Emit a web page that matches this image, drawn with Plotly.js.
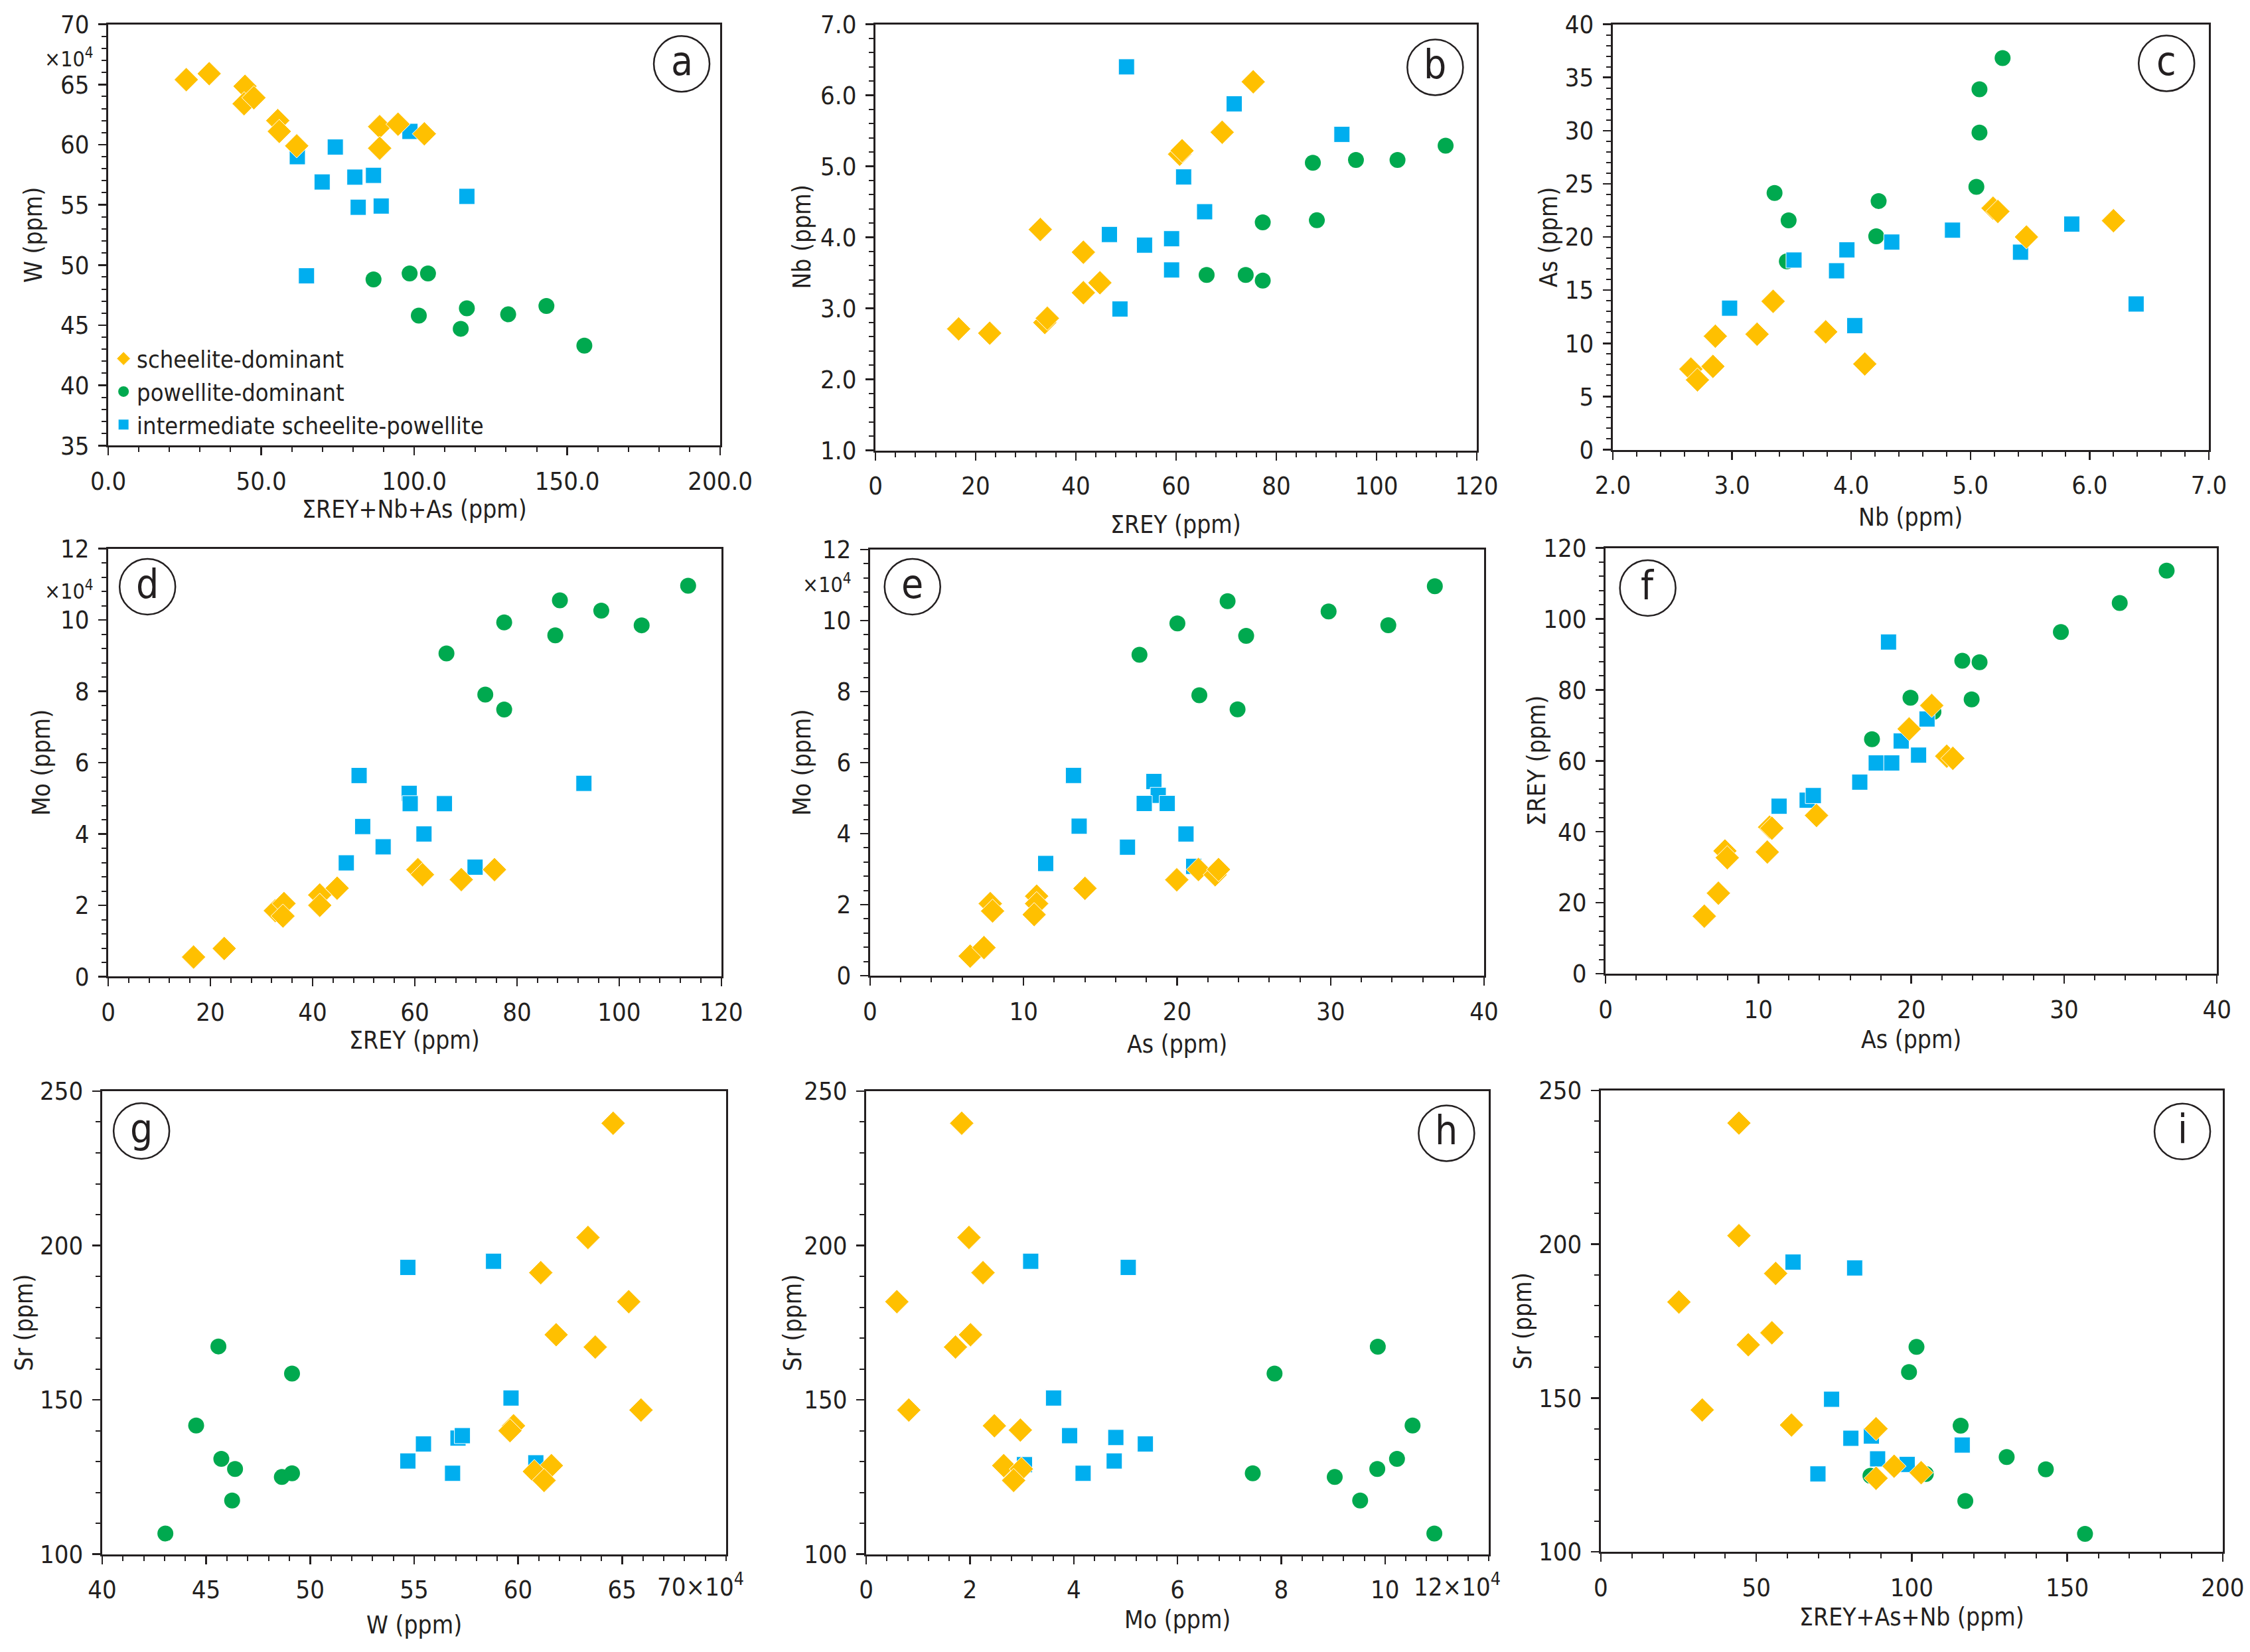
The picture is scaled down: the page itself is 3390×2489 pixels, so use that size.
<!DOCTYPE html>
<html>
<head>
<meta charset="utf-8">
<script src="https://cdn.plot.ly/plotly-3.0.1.min.js"></script>
<style>
  html, body { margin: 0; padding: 0; background: #fff; }
  #chart { width: 3390px; height: 2489px; }
</style>
</head>
<body>
<div id="chart"></div>
<script>
/* ── data, one block per panel (a–i) ── */

// (a) W vs ΣREY+Nb+As
const a_sch_x = [25.5, 33.0, 44.7, 44.4, 47.6, 55.4, 55.9, 61.6, 88.7, 88.7, 94.7, 103.3];
const a_sch_y = [65.4, 65.9, 64.85, 63.4, 63.9, 62.0, 61.1, 59.9, 61.5, 59.7, 61.7, 60.9];
const a_pow_x = [86.7, 98.5, 104.5, 101.5, 115.2, 117.2, 130.7, 143.2, 155.6];
const a_pow_y = [48.8, 49.3, 49.3, 45.8, 44.7, 46.4, 45.9, 46.6, 43.3];
const a_int_x = [61.8, 74.2, 69.9, 80.6, 86.7, 81.7, 89.2, 98.6, 117.2, 64.8];
const a_int_y = [59.0, 59.8, 56.9, 57.3, 57.45, 54.8, 54.9, 61.1, 55.7, 49.1];

// (b) Nb vs ΣREY
const b_sch_x = [16.6, 22.8, 32.9, 33.8, 34.3, 41.5, 41.5, 44.8, 60.7, 61.2, 69.2, 75.4];
const b_sch_y = [2.71, 2.65, 4.11, 2.80, 2.86, 3.79, 3.22, 3.36, 5.17, 5.22, 5.48, 6.19];
const b_pow_x = [87.3, 95.9, 104.2, 113.8, 77.3, 88.1, 66.1, 73.9, 77.3];
const b_pow_y = [5.05, 5.09, 5.09, 5.29, 4.21, 4.24, 3.47, 3.47, 3.39];
const b_int_x = [50.1, 71.6, 93.1, 61.5, 65.7, 46.7, 53.7, 59.1, 59.1, 48.8];
const b_int_y = [6.40, 5.88, 5.45, 4.85, 4.36, 4.04, 3.89, 3.98, 3.54, 2.99];

// (c) As vs Nb
const c_sch_x = [2.655, 2.71, 2.84, 2.86, 3.21, 3.345, 3.786, 4.114, 5.19, 5.23, 5.47, 6.2];
const c_sch_y = [7.58, 6.56, 7.83, 10.67, 10.86, 13.95, 11.08, 8.06, 22.71, 22.4, 20.0, 21.53];
const c_pow_x = [5.27, 5.076, 5.076, 5.05, 3.357, 3.475, 3.46, 4.23, 4.21];
const c_pow_y = [36.82, 33.89, 29.81, 24.71, 24.14, 21.56, 17.71, 23.38, 20.06];
const c_int_x = [2.98, 3.52, 3.877, 3.964, 4.03, 4.34, 4.85, 5.42, 5.85, 6.39];
const c_int_y = [13.31, 17.83, 16.82, 18.79, 11.66, 19.52, 20.64, 18.57, 21.21, 13.7];

// (d) Mo vs ΣREY
const d_sch_x = [16.7, 22.7, 32.7, 34.4, 34.2, 41.4, 41.4, 44.8, 60.6, 61.5, 69.1, 75.6];
const d_sch_y = [0.55, 0.79, 1.85, 2.05, 1.70, 2.29, 2.00, 2.48, 3.00, 2.86, 2.72, 3.00];
const d_pow_x = [66.2, 73.8, 77.5, 77.5, 87.5, 88.4, 96.5, 104.4, 113.5];
const d_pow_y = [9.06, 7.91, 7.49, 9.93, 9.57, 10.55, 10.26, 9.85, 10.96];
const d_int_x = [49.1, 58.9, 59.1, 65.8, 49.8, 61.8, 53.8, 46.6, 71.8, 93.1];
const d_int_y = [5.64, 5.14, 4.85, 4.85, 4.21, 4.00, 3.64, 3.19, 3.07, 5.42];

// (e) Mo vs As
const e_sch_x = [6.52, 7.42, 7.83, 7.98, 10.85, 10.85, 10.69, 14.0, 19.98, 21.39, 22.48, 22.7];
const e_sch_y = [0.55, 0.79, 2.03, 1.82, 2.24, 2.03, 1.72, 2.46, 2.70, 2.99, 2.84, 2.99];
const e_pow_x = [17.55, 20.02, 23.29, 24.5, 21.45, 23.94, 29.87, 33.76, 36.79];
const e_pow_y = [9.04, 9.92, 10.55, 9.57, 7.90, 7.50, 10.26, 9.87, 10.97];
const e_int_x = [13.25, 18.49, 18.77, 17.86, 19.36, 13.62, 20.58, 16.77, 11.44, 21.08];
const e_int_y = [5.64, 5.47, 5.08, 4.85, 4.85, 4.21, 3.99, 3.62, 3.16, 3.08];

// (f) ΣREY vs As
const f_sch_x = [6.46, 7.38, 7.81, 7.96, 10.58, 10.73, 10.88, 13.80, 19.86, 21.34, 22.32, 22.72];
const f_sch_y = [16.2, 22.7, 34.6, 32.7, 34.3, 41.3, 41.0, 44.6, 69.0, 75.6, 61.3, 60.7];
const f_pow_x = [17.43, 19.95, 21.45, 23.95, 23.34, 24.47, 29.79, 33.64, 36.71];
const f_pow_y = [66.1, 77.8, 73.8, 77.3, 88.2, 87.8, 96.3, 104.5, 113.6];
const f_int_x = [18.51, 21.03, 19.34, 20.48, 17.71, 18.72, 16.63, 11.35, 13.19, 13.59];
const f_int_y = [93.5, 71.8, 65.6, 61.6, 59.4, 59.4, 54.0, 47.2, 48.9, 50.2];

// (g) Sr vs W
const g_sch_x = [64.57, 63.36, 61.09, 65.32, 61.83, 63.71, 65.91, 59.78, 59.61, 61.6, 60.78, 61.25];
const g_sch_y = [239.6, 202.6, 191.2, 181.8, 171.1, 167.1, 146.7, 141.6, 140.0, 128.7, 126.8, 123.9];
const g_pow_x = [43.04, 44.52, 45.59, 45.73, 46.39, 46.25, 48.64, 49.13, 49.13];
const g_pow_y = [106.7, 141.7, 167.3, 130.9, 127.6, 117.4, 125.0, 126.2, 158.5];
const g_int_x = [54.70, 58.82, 59.66, 54.70, 55.45, 57.11, 57.32, 56.85, 60.85];
const g_int_y = [192.9, 194.9, 150.6, 130.2, 135.7, 137.6, 138.4, 126.2, 129.6];

// (h) Sr vs Mo
const h_sch_x = [1.84, 1.98, 2.25, 0.59, 2.01, 1.72, 0.82, 2.47, 2.97, 2.65, 2.99, 2.84];
const h_sch_y = [239.6, 202.6, 191.2, 181.8, 171.1, 167.1, 146.7, 141.6, 140.2, 128.7, 127.6, 123.9];
const h_pow_x = [9.86, 7.87, 10.53, 10.23, 9.85, 7.45, 9.03, 9.52, 10.95];
const h_pow_y = [167.2, 158.5, 141.7, 130.9, 127.6, 126.2, 125.0, 117.4, 106.7];
const h_int_x = [3.17, 5.05, 3.61, 3.92, 4.81, 5.38, 4.78, 4.18, 3.05];
const h_int_y = [194.9, 192.9, 150.6, 138.4, 137.8, 135.7, 130.2, 126.2, 129.0];

// (i) Sr vs ΣREY+As+Nb
const i_sch_x = [44.4, 44.4, 56.2, 25.1, 55.0, 47.4, 32.6, 61.3, 88.5, 94.3, 103.0, 88.5];
const i_sch_y = [239.4, 202.8, 190.5, 181.2, 171.2, 167.3, 146.1, 141.2, 140.0, 127.8, 125.7, 123.9];
const i_pow_x = [101.5, 99.1, 115.7, 130.5, 143.1, 117.2, 155.7, 86.7, 104.5];
const i_pow_y = [166.6, 158.4, 141.0, 130.8, 126.8, 116.5, 105.8, 124.7, 125.3];
const i_int_x = [61.8, 81.6, 74.2, 80.4, 87.0, 89.0, 98.5, 116.2, 69.8];
const i_int_y = [194.2, 192.3, 149.6, 136.9, 137.6, 130.2, 128.4, 134.7, 125.3];

const groupNames = ['scheelite-dominant', 'powellite-dominant', 'intermediate scheelite-powellite'];

/* ── style ── */
const FAM = "'Liberation Sans Narrow','DejaVu Sans Condensed','Liberation Sans',sans-serif";
const INK = '#231f20';
const MARKERS = {
  sch: { symbol: 'diamond', size: 28, color: '#ffc000', line: { color: '#ffffff', width: 1 } },
  pow: { symbol: 'circle', size: 24, color: '#00a94f', line: { width: 0 } },
  int: { symbol: 'square', size: 24, color: '#00aeef', line: { color: '#ffffff', width: 1 } },
};
const RANK = { sch: 1, pow: 2, int: 3 };
const NAME = { sch: groupNames[0], pow: groupNames[1], int: groupNames[2] };

// panel layout (domains measured in the 3390x2489 frame)
const panels = [
  { lab: 'a', x: [0.0481, 0.3201], y: [0.7303, 0.9853], xr: [0, 200], yr: [35, 70], xd: 50, xm: 10, yd: 5, ym: 1, xf: '.1f', yf: '', xt: 'ΣREY+Nb+As (ppm)', yt: 'W (ppm)', xs: 96, ys: 112, lx: 0.937, ly: 0.906,
    d: [a_sch_x, a_sch_y, a_pow_x, a_pow_y, a_int_x, a_int_y] },
  { lab: 'b', x: [0.3891, 0.6563], y: [0.7274, 0.9853], xr: [0, 120], yr: [1, 7], xd: 20, xm: 4, yd: 1, ym: 0.2, xf: '', yf: '.1f', xt: 'ΣREY (ppm)', yt: 'Nb (ppm)', xs: 112, ys: 111, lx: 0.931, ly: 0.899,
    d: [b_sch_x, b_sch_y, b_pow_x, b_pow_y, b_int_x, b_int_y] },
  { lab: 'c', x: [0.7168, 0.9817], y: [0.7278, 0.9853], xr: [2, 7], yr: [0, 40], xd: 1, xm: 0.2, yd: 5, ym: 1, xf: '.1f', yf: '', xt: 'Nb (ppm)', yt: 'As (ppm)', xs: 102, ys: 97, lx: 0.929, ly: 0.908,
    d: [c_sch_x, c_sch_y, c_pow_x, c_pow_y, c_int_x, c_int_y] },
  { lab: 'd', x: [0.0481, 0.3206], y: [0.4088, 0.6679], xr: [0, 120], yr: [0, 12], xd: 20, xm: 4, yd: 2, ym: 0.4, xf: '', yf: '', xt: 'ΣREY (ppm)', yt: 'Mo (ppm)', xs: 96, ys: 101, lx: 0.064, ly: 0.911,
    d: [d_sch_x, d_sch_y, d_pow_x, d_pow_y, d_int_x, d_int_y] },
  { lab: 'e', x: [0.3867, 0.6596], y: [0.4094, 0.6673], xr: [0, 40], yr: [0, 12], xd: 10, xm: 2, yd: 2, ym: 0.4, xf: '', yf: '', xt: 'As (ppm)', yt: 'Mo (ppm)', xs: 103, ys: 103, lx: 0.069, ly: 0.913,
    d: [e_sch_x, e_sch_y, e_pow_x, e_pow_y, e_int_x, e_int_y] },
  { lab: 'f', x: [0.7136, 0.9853], y: [0.4106, 0.6683], xr: [0, 40], yr: [0, 120], xd: 10, xm: 2, yd: 20, ym: 4, xf: '', yf: '', xt: 'As (ppm)', yt: 'ΣREY (ppm)', xs: 99, ys: 104, lx: 0.069, ly: 0.906,
    d: [f_sch_x, f_sch_y, f_pow_x, f_pow_y, f_int_x, f_int_y] },
  { lab: 'g', x: [0.0454, 0.3227], y: [0.0592, 0.3395], xr: [40, 70], yr: [100, 250], xd: 5, xm: 1, yd: 50, ym: 10, xf: '', yf: '', xt: 'W (ppm)', yt: 'Sr (ppm)', xs: 107, ys: 117, lx: 0.063, ly: 0.914,
    last: '70×10<sup>4</sup>', lastShift: -38, d: [g_sch_x, g_sch_y, g_pow_x, g_pow_y, g_int_x, g_int_y] },
  { lab: 'h', x: [0.3850, 0.6617], y: [0.0592, 0.3395], xr: [0, 12], yr: [100, 250], xd: 2, xm: 0.4, yd: 50, ym: 10, xf: '', yf: '', xt: 'Mo (ppm)', yt: 'Sr (ppm)', xs: 99, ys: 110, lx: 0.932, ly: 0.909,
    last: '12×10<sup>4</sup>', lastShift: -48, d: [h_sch_x, h_sch_y, h_pow_x, h_pow_y, h_int_x, h_int_y] },
  { lab: 'i', x: [0.7115, 0.9879], y: [0.0607, 0.3399], xr: [0, 200], yr: [100, 250], xd: 50, xm: 10, yd: 50, ym: 10, xf: '', yf: '', xt: 'ΣREY+As+Nb (ppm)', yt: 'Sr (ppm)', xs: 99, ys: 118, lx: 0.935, ly: 0.911,
    d: [i_sch_x, i_sch_y, i_pow_x, i_pow_y, i_int_x, i_int_y] },
];

const TICK_FONT = { family: FAM, size: 38, color: INK };
const TITLE_FONT = { family: FAM, size: 37, color: INK };

function axisCfg(domain, range, dtick, minor, fmt, anchor) {
  return {
    domain, range, anchor,
    dtick, tick0: 0, tickformat: fmt,
    ticks: 'outside', ticklen: 12, tickwidth: 2.5, tickcolor: INK,
    ticklabelstandoff: 6,
    minor: { dtick: minor, tick0: 0, ticks: 'outside', ticklen: 7, tickwidth: 2, tickcolor: INK, showgrid: false },
    showline: true, mirror: true, linewidth: 3, linecolor: INK,
    showgrid: false, zeroline: false, tickfont: TICK_FONT, fixedrange: true,
  };
}

const traces = [];
const layout = {
  width: 3390, height: 2489,
  margin: { l: 0, r: 0, t: 0, b: 0 },
  paper_bgcolor: '#ffffff', plot_bgcolor: '#ffffff',
  font: { family: FAM, color: INK },
  showlegend: true,
  legend: {
    x: 0.049, y: 0.795, xanchor: 'left', yanchor: 'top',
    bgcolor: 'rgba(0,0,0,0)', borderwidth: 0,
    font: { family: FAM, size: 36, color: INK },
    itemwidth: 30, tracegroupgap: 0,
  },
  annotations: [], shapes: [],
};

panels.forEach((p, idx) => {
  const n = idx + 1;
  const s = n === 1 ? '' : String(n);
  const xa = axisCfg(p.x, p.xr, p.xd, p.xm, p.xf, 'y' + s);
  const ya = axisCfg(p.y, p.yr, p.yd, p.ym, p.yf, 'x' + s);
  if (p.last) {
    // last major label is drawn as an annotation (shifted left like the original);
    // its tick mark comes from the minor ticks
    const vals = [];
    for (let v = p.xr[0]; v < p.xr[1] - 1e-9; v += p.xd) vals.push(v);
    xa.tickmode = 'array';
    xa.tickvals = vals;
    xa.ticktext = vals.map(v => String(Math.round(v * 10) / 10));
  }
  layout['xaxis' + s] = xa;
  layout['yaxis' + s] = ya;

  // draw order: powellite, intermediate, scheelite on top
  const [sx, sy, px, py, ix, iy] = p.d;
  [['pow', px, py], ['int', ix, iy], ['sch', sx, sy]].forEach(([g, x, y]) => {
    traces.push({
      type: 'scatter', mode: 'markers', x, y,
      xaxis: 'x' + s, yaxis: 'y' + s,
      name: NAME[g], legendgroup: g, legendrank: RANK[g],
      showlegend: n === 1, marker: MARKERS[g], hoverinfo: 'skip',
    });
  });

  const xd = 'x' + s + ' domain', yd = 'y' + s + ' domain';
  // axis titles
  layout.annotations.push({ xref: xd, yref: yd, x: 0.5, y: 0, yshift: -p.xs, xanchor: 'center', yanchor: 'middle',
    text: p.xt, showarrow: false, font: TITLE_FONT });
  layout.annotations.push({ xref: xd, yref: yd, x: 0, y: 0.5, xshift: -p.ys, xanchor: 'center', yanchor: 'middle',
    textangle: -90, text: p.yt, showarrow: false, font: TITLE_FONT });
  if (p.last) {
    layout.annotations.push({ xref: xd, yref: yd, x: 1, y: 0, xshift: p.lastShift, yshift: -46, xanchor: 'center', yanchor: 'middle',
      text: p.last, showarrow: false, font: TICK_FONT });
  }
  // circled panel letter
  layout.shapes.push({ type: 'circle', xref: xd, yref: yd, xsizemode: 'pixel', ysizemode: 'pixel',
    xanchor: p.lx, yanchor: p.ly, x0: -42, x1: 42, y0: -42, y1: 42, line: { color: INK, width: 2.5 } });
  layout.annotations.push({ xref: xd, yref: yd, x: p.lx, y: p.ly, yshift: 4, xanchor: 'center', yanchor: 'middle',
    text: p.lab, showarrow: false, font: { family: FAM, size: 60, color: INK } });
});

// ×10^4 multipliers on W and Mo axes
[[0.0307, 0.965], [0.0307, 0.6428], [0.3675, 0.6468]].forEach(([x, y]) => {
  layout.annotations.push({ xref: 'paper', yref: 'paper', x, y, xanchor: 'center', yanchor: 'middle',
    text: '×10<sup>4</sup>', showarrow: false, font: { family: FAM, size: 32, color: INK } });
});

Plotly.newPlot('chart', traces, layout, { staticPlot: true, displayModeBar: false });
</script>
</body>
</html>
